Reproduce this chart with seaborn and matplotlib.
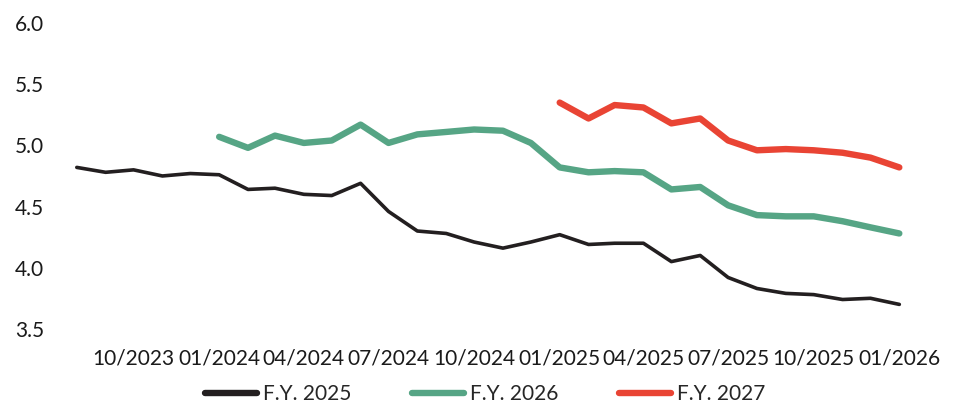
import matplotlib
matplotlib.use("Agg")
import matplotlib.pyplot as plt
import matplotlib.dates as mdates
import seaborn as sns
import pandas as pd

# Monthly values, Aug 2023 - Jan 2026
months = pd.date_range("2023-08-01", "2026-01-01", freq="MS")

fy2025 = [4.82, 4.78, 4.80, 4.75, 4.77, 4.76, 4.64, 4.65, 4.60, 4.59,
          4.69, 4.46, 4.30, 4.28, 4.21, 4.16, 4.21, 4.27, 4.19, 4.20,
          4.20, 4.05, 4.10, 3.92, 3.83, 3.79, 3.78, 3.74, 3.75, 3.70]
fy2026 = [5.07, 4.98, 5.08, 5.02, 5.04, 5.17, 5.02, 5.09, 5.11, 5.13,
          5.12, 5.02, 4.82, 4.78, 4.79, 4.78, 4.64, 4.66, 4.51, 4.43,
          4.42, 4.42, 4.38, 4.33, 4.28]
fy2027 = [5.35, 5.22, 5.33, 5.31, 5.18, 5.22, 5.04, 4.96, 4.97, 4.96,
          4.94, 4.90, 4.82]

series = [
    ("F.Y. 2025", fy2025, "#231f20", 2.6),
    ("F.Y. 2026", fy2026, "#56a585", 4.6),
    ("F.Y. 2027", fy2027, "#e94434", 4.6),
]
tick_dates = pd.date_range("2023-10-01", "2026-01-01", freq="3MS")

sns.set_theme(style="white")
plt.rcParams["font.family"] = ["Lato", "DejaVu Sans"]

fig = plt.figure(figsize=(9.55, 4.05), dpi=100)
ax = fig.add_axes([0.058, 0.188, 0.91, 0.755])

for name, vals, color, lw in series:
    x = months[len(months) - len(vals):]
    sns.lineplot(x=x, y=vals, ax=ax, color=color, linewidth=lw, label=name,
                 solid_joinstyle="round", solid_capstyle="round")

ax.set_ylim(3.5, 6.0)
ax.set_yticks([3.5, 4.0, 4.5, 5.0, 5.5, 6.0])
ax.yaxis.set_major_formatter(plt.FormatStrFormatter("%.1f"))
ax.set_xlim(months[0] - pd.Timedelta(days=23), months[-1] + pd.Timedelta(days=27))
ax.set_xticks(tick_dates)
ax.xaxis.set_major_formatter(mdates.DateFormatter("%m/%Y"))
ax.tick_params(axis="both", labelsize=15, colors="#1a1a1a", length=0)
ax.tick_params(axis="x", pad=14)
ax.tick_params(axis="y", pad=8)
for s in ax.spines.values():
    s.set_visible(False)
ax.grid(False)
ax.set_xlabel("")
ax.set_ylabel("")

handles, labels = ax.get_legend_handles_labels()
ax.get_legend().remove()
leg = fig.legend(handles, labels, loc="center", ncol=3, frameon=False,
                 bbox_to_anchor=(0.508, 0.026), fontsize=15,
                 handlelength=2.5, handletextpad=0.3, columnspacing=2.9,
                 borderpad=0.1)
for h in leg.get_lines():
    h.set_linewidth(4.6)

fig.savefig("out.png", dpi=100)
